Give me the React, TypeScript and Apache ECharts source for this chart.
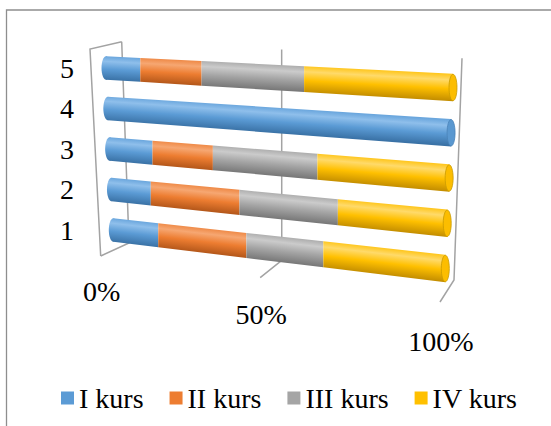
import React, { useEffect, useRef } from 'react';
import * as echarts from 'echarts';

// ---- data ----
const categories = ['1', '2', '3', '4', '5'];
const seriesNames = ['I kurs', 'II kurs', 'III kurs', 'IV kurs'];
const kurs1 = [15, 13, 14, 100, 11];
const kurs2 = [28, 28, 19, 0, 19];
const kurs3 = [23, 29, 31, 0, 30];
const kurs4 = [34, 30, 36, 0, 40];
const axisTicks = [0, 50, 100];

// ---- styling ----
const baseColors = ['#5B9BD5', '#ED7D31', '#A5A5A5', '#FFC000'];
const shades = [
  ['#6aa6dd', '#8fbfeb', '#5b9bd5', '#3a72a6'],
  ['#ef8a47', '#f6a772', '#ed7d31', '#b4571a'],
  ['#aeaeae', '#cbcbcb', '#a5a5a5', '#777777'],
  ['#ffc61c', '#ffda6a', '#ffc000', '#c48e00'],
];
const capFill = ['#5a98d0', '#e97a2f', '#a2a2a2', '#fcbd00'];
const capStroke = ['#4a83b8', '#c2621f', '#8a8a8a', '#c99a00'];
const FONT = 'Liberation Serif';

// perspective compression along the value axis
const K = 0.887;
const persp = (u: number) => (K * u) / (1 + (K - 1) * u);
const lerp = (a: number[], b: number[], s: number) => [a[0] + (b[0] - a[0]) * s, a[1] + (b[1] - a[1]) * s];

// wall geometry (layout)
const WALL_BACK_TOP = [[121.7, 41.7], [462, 58.3]];
const WALL_BACK_BOT = [[129, 243], [454, 280]];
const WALL_FRONT_BOT = [[100.7, 256], [440, 302]];
const WALL_FRONT_TOP_LEFT = [90, 49];

function barRenderer(k: number) {
  return (params: any, api: any) => {
    const v0 = api.value(0);
    const v1 = api.value(1);
    const idx = api.value(2);
    if (!(v1 - v0 > 0)) return null;
    const cs = params.coordSys;
    const p0 = api.coord([v0, idx]);
    const p1 = api.coord([v1, idx]);
    const yTop = api.coord([0, categories.length - 1])[1];
    const yBot = api.coord([0, 0])[1];
    const t = (p0[1] - yTop) / (yBot - yTop);
    const proj = (s: number) => {
      const lx = cs.x + 7.3 * t;
      const ly = p0[1];
      const rx = cs.x + cs.width - 7.7 * t;
      const ry = p0[1] + 19.5 + 19 * t;
      return [lx + s * (rx - lx), ly + s * (ry - ly)];
    };
    const half = (s: number) => (23.5 + 4 * s) / 2;
    const s0 = persp((p0[0] - cs.x) / cs.width);
    const s1 = persp((p1[0] - cs.x) / cs.width);
    const a = proj(s0);
    const b = proj(s1);
    const h0 = half(s0);
    const h1 = half(s1);
    const dx = b[0] - a[0];
    const dy = b[1] - a[1];
    const len = Math.sqrt(dx * dx + dy * dy) || 1;
    const nx = -dy / len;
    const ny = dx / len;
    const m = [(a[0] + b[0]) / 2, (a[1] + b[1]) / 2];
    const hm = (h0 + h1) / 2;
    const sh = shades[k];
    const grad = new echarts.graphic.LinearGradient(
      m[0] + nx * -hm, m[1] + ny * -hm, m[0] + nx * hm, m[1] + ny * hm,
      [
        { offset: 0, color: sh[0] },
        { offset: 0.22, color: sh[1] },
        { offset: 0.55, color: sh[2] },
        { offset: 1, color: sh[3] },
      ],
      true
    );
    const children: any[] = [];
    if (v0 <= 0) {
      children.push({
        type: 'ellipse',
        shape: { cx: a[0], cy: a[1], rx: 4.5, ry: h0 },
        style: { fill: grad },
      });
    }
    children.push({
      type: 'polygon',
      shape: {
        points: [
          [a[0], a[1] - h0],
          [b[0], b[1] - h1],
          [b[0], b[1] + h1],
          [a[0], a[1] + h0],
        ],
      },
      style: { fill: grad },
    });
    if (v1 >= 100) {
      children.push({
        type: 'ellipse',
        shape: { cx: b[0], cy: b[1], rx: 4, ry: h1 - 0.5 },
        style: { fill: capFill[k], stroke: capStroke[k], lineWidth: 0.8 },
      });
    }
    return { type: 'group', children };
  };
}

function wallRenderer(params: any, api: any) {
  const v = api.value(0);
  const cs = params.coordSys;
  const p = api.coord([v, 0]);
  const s = persp((p[0] - cs.x) / cs.width);
  const bt = lerp(WALL_BACK_TOP[0], WALL_BACK_TOP[1], s);
  const bb = lerp(WALL_BACK_BOT[0], WALL_BACK_BOT[1], s);
  const fb = lerp(WALL_FRONT_BOT[0], WALL_FRONT_BOT[1], s);
  const lineStyle = { stroke: '#a3a3a3', lineWidth: 1.5, fill: 'none' };
  const children: any[] = [
    { type: 'polyline', shape: { points: [bt, bb, fb] }, style: lineStyle },
  ];
  if (v <= 0) {
    children.push({
      type: 'polyline',
      shape: { points: [bt, WALL_FRONT_TOP_LEFT, fb] },
      style: lineStyle,
    });
  }
  children.push({
    type: 'text',
    x: fb[0] + 1,
    y: fb[1] + 35 + 4 * s,
    style: {
      text: v + '%',
      fill: '#000',
      fontSize: 28,
      fontFamily: FONT,
      align: 'center',
      verticalAlign: 'middle',
    },
  });
  return { type: 'group', children };
}

function buildOption() {
  const values = [kurs1, kurs2, kurs3, kurs4];
  const starts = categories.map(() => 0);
  const barSeries = values.map((vals, k) => {
    const data = vals.map((v, i) => {
      const s = starts[i];
      starts[i] += v;
      return [s, s + v, i];
    });
    return {
      type: 'custom',
      name: seriesNames[k],
      coordinateSystem: 'cartesian2d',
      renderItem: barRenderer(k),
      encode: { x: [0, 1], y: 2 },
      itemStyle: { color: baseColors[k] },
      data,
      z: 3,
    };
  });
  const wallSeries = {
    type: 'custom',
    name: 'wall',
    coordinateSystem: 'cartesian2d',
    renderItem: wallRenderer,
    encode: { x: 0, y: 1 },
    data: axisTicks.map((v) => [v, 0]),
    silent: true,
    z: 1,
  };
  return {
    animation: false,
    backgroundColor: '#ffffff',
    grid: { left: 106, right: 98, top: 47.75, bottom: 175.75 },
    xAxis: { type: 'value', min: 0, max: 100, show: false },
    yAxis: {
      type: 'category',
      data: categories,
      axisLine: { show: false },
      axisTick: { show: false },
      splitLine: { show: false },
      axisLabel: {
        margin: 32,
        fontSize: 28,
        fontFamily: FONT,
        color: '#000',
        padding: [14, 0, 0, 0],
      },
    },
    legend: {
      data: seriesNames.map((n) => ({ name: n, icon: 'rect' })),
      left: 56,
      top: 379,
      itemWidth: 13,
      itemHeight: 13,
      itemGap: 26,
      textStyle: { fontSize: 28, fontFamily: FONT, color: '#000' },
      selectedMode: false,
    },
    graphic: [
      {
        type: 'rect',
        silent: true,
        z: -10,
        shape: { x: 6.5, y: 10, width: 600, height: 500 },
        style: { fill: 'none', stroke: '#8e8e8e', lineWidth: 1.3 },
      },
    ],
    series: [wallSeries, ...barSeries],
  };
}

export default function App() {
  const ref = useRef<HTMLDivElement>(null);
  useEffect(() => {
    if (!ref.current) return;
    const chart = echarts.init(ref.current, null, { renderer: 'svg' });
    chart.setOption(buildOption() as any);
    return () => chart.dispose();
  }, []);
  return (
    <div
      ref={ref}
      style={{ position: 'fixed', left: 0, top: 0, width: 551, height: 426, background: '#fff' }}
    />
  );
}
